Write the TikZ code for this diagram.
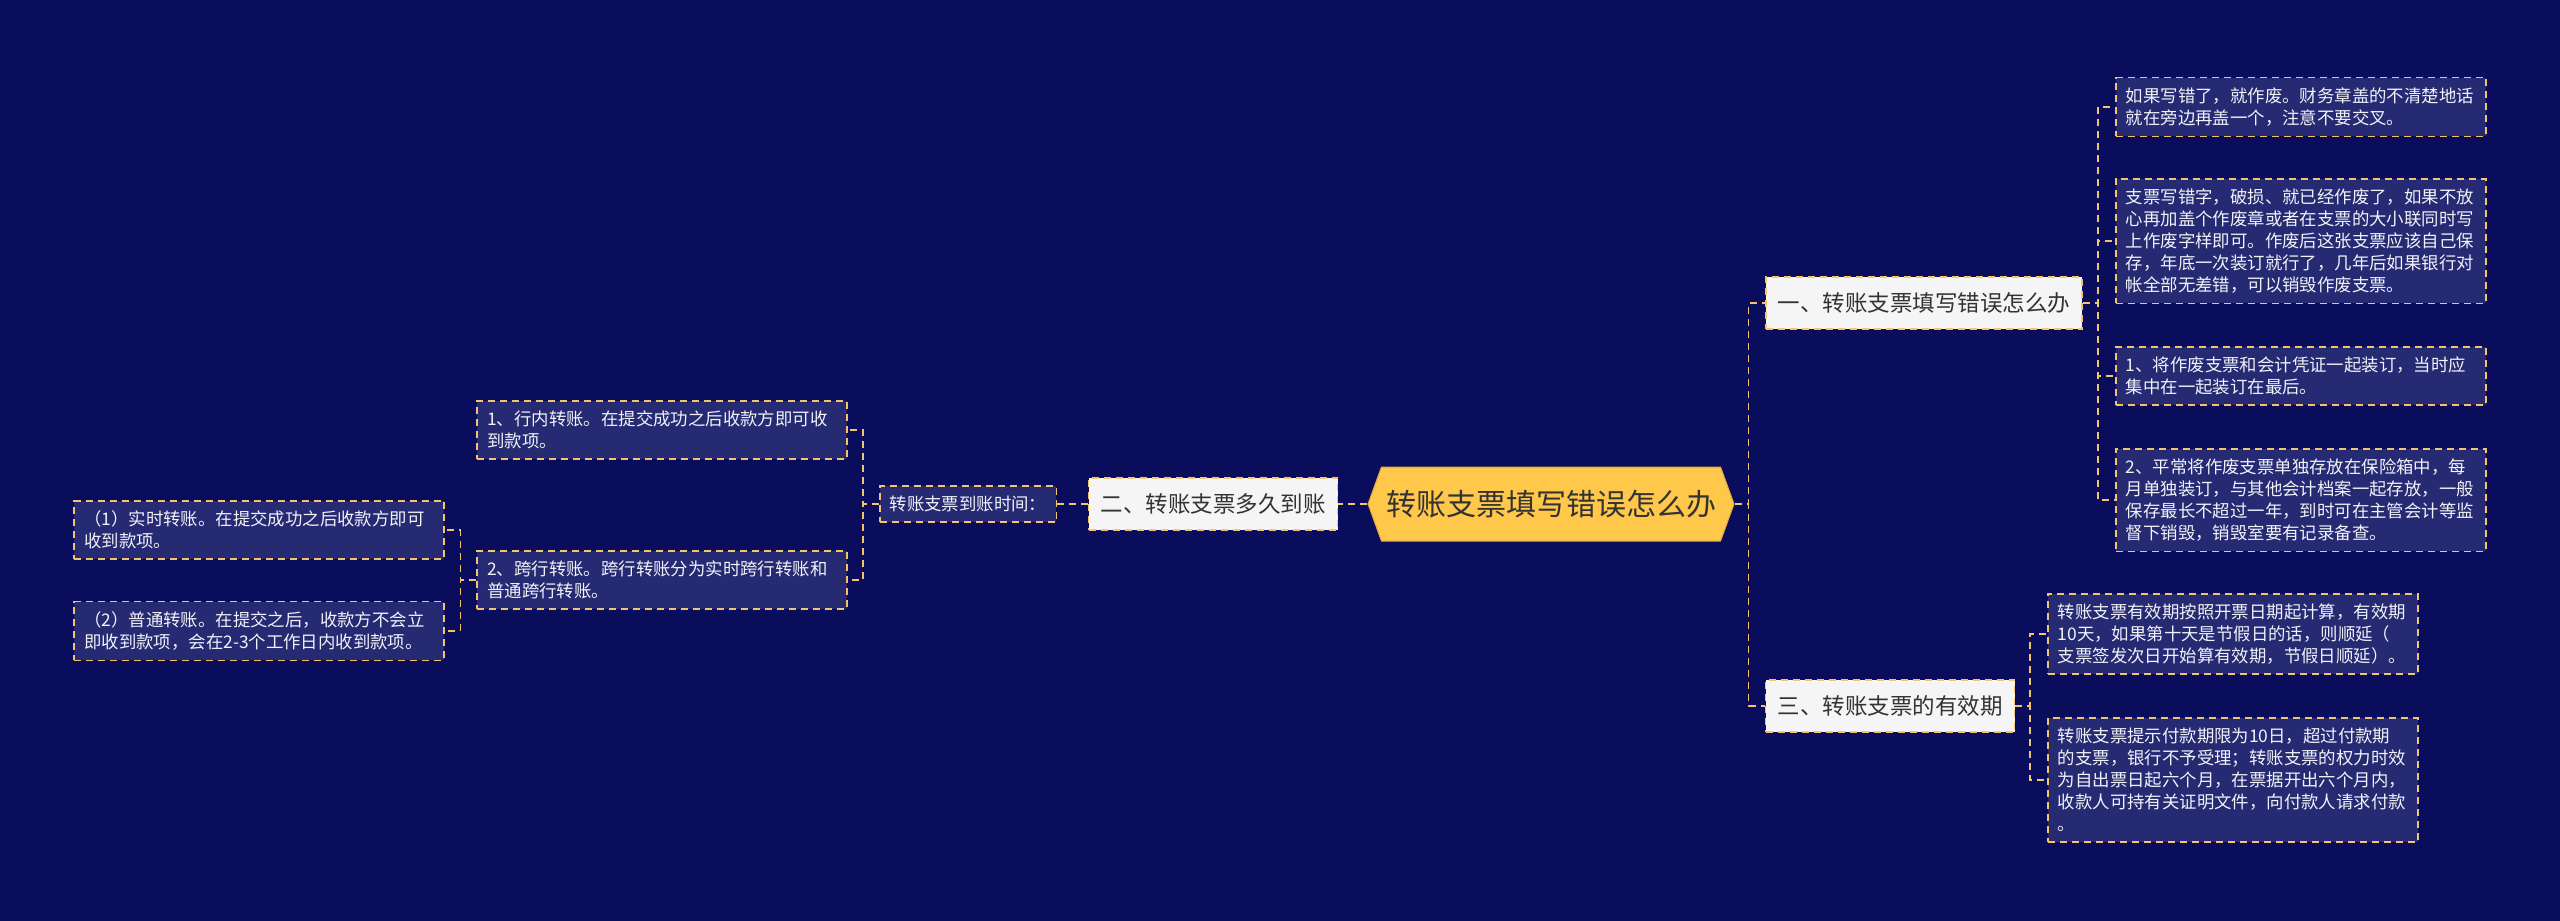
\documentclass[tikz,border=0pt]{standalone}
\usepackage{fontspec}
\setmainfont{Noto Sans CJK SC}
\usetikzlibrary{shapes.symbols}
\definecolor{bgnavy}{HTML}{0A0D5B}
\definecolor{leafblue}{HTML}{252A72}
\definecolor{lineyellow}{HTML}{F3C46A}
\definecolor{rootyellow}{HTML}{FFC84B}
\definecolor{boxgray}{HTML}{F5F5F5}
\definecolor{textdark}{HTML}{333333}
\definecolor{textlight}{HTML}{F2F2F8}
\tikzset{
  link/.style={draw=lineyellow, line width=1.8pt, dash pattern=on 7pt off 5pt},
  dashbox/.style={draw=lineyellow, line width=1.6pt, dash pattern=on 7pt off 5pt},
  smallbox/.style={dashbox, fill=leafblue, text=textlight, inner xsep=10pt,
     inner ysep=10pt, font=\fontsize{17.4}{22}\selectfont},
  leaf/.style={smallbox, align=left, text width=350pt},
  branch/.style={dashbox, fill=boxgray, text=textdark, inner xsep=12pt,
     minimum height=52pt, font=\fontsize{22.5}{27}\selectfont},
  rootbox/.style={signal, signal to=east and west, signal pointer angle=140,
     fill=rootyellow, draw=rootyellow!85!black, line width=1pt, text=textdark,
     minimum width=366pt, minimum height=74pt, font=\fontsize{30}{36}\selectfont}
}
\def\Leaf#1#2#3#4{%
  \node[leaf, anchor=#3] (#1) at #2 {#4};
}
\begin{document}
\begin{tikzpicture}[x=1pt, y=-1pt]
\useasboundingbox[fill=bgnavy] (0,0) rectangle (2560,921);
\node[rootbox] (root) at (1551,504) {转账支票填写错误怎么办};
\node[branch] (n1) at (1924,303) {一、转账支票填写错误怎么办};
\node[branch] (n2) at (1213,504) {二、转账支票多久到账};
\node[branch] (n3) at (1890,706) {三、转账支票的有效期};
\node[smallbox] (q) at (968,504) {转账支票到账时间：};
% right side
\Leaf{leafA}{(2115,107)}{west}{如果写错了，就作废。财务章盖的不清楚地话\\就在旁边再盖一个，注意不要交叉。}
\Leaf{leafB}{(2115,241)}{west}{支票写错字，破损、就已经作废了，如果不放\\心再加盖个作废章或者在支票的大小联同时写\\上作废字样即可。作废后这张支票应该自己保\\存，年底一次装订就行了，几年后如果银行对\\帐全部无差错，可以销毁作废支票。}
\Leaf{leafC}{(2115,376)}{west}{1、将作废支票和会计凭证一起装订，当时应\\集中在一起装订在最后。}
\Leaf{leafD}{(2115,500)}{west}{2、平常将作废支票单独存放在保险箱中，每\\月单独装订，与其他会计档案一起存放，一般\\保存最长不超过一年，到时可在主管会计等监\\督下销毁，销毁室要有记录备查。}
\Leaf{leafE}{(2047,634)}{west}{转账支票有效期按照开票日期起计算，有效期\\10天，如果第十天是节假日的话，则顺延（\\支票签发次日开始算有效期，节假日顺延）。}
\Leaf{leafF}{(2047,780)}{west}{转账支票提示付款期限为10日，超过付款期\\的支票，银行不予受理；转账支票的权力时效\\为自出票日起六个月，在票据开出六个月内，\\收款人可持有关证明文件，向付款人请求付款\\。}
% left side
\Leaf{leaf1}{(848,430)}{east}{1、行内转账。在提交成功之后收款方即可收\\到款项。}
\Leaf{leaf2}{(848,580)}{east}{2、跨行转账。跨行转账分为实时跨行转账和\\普通跨行转账。}
\Leaf{sub1}{(445,530)}{east}{（1）实时转账。在提交成功之后收款方即可\\收到款项。}
\Leaf{sub2}{(445,631)}{east}{（2）普通转账。在提交之后，收款方不会立\\即收到款项，会在2-3个工作日内收到款项。}
\draw[link] (root.east) -- ++(14,0) |- (n1.west);
\draw[link] (root.east) -- ++(14,0) |- (n3.west);
\draw[link] (root.west) -- (n2.east);
\draw[link] (n2.west) -- (q.east);
\foreach \c in {leafA,leafB,leafC,leafD}
  \draw[link] (n1.east) -- ++(15,0) |- (\c.west);
\foreach \c in {leafE,leafF}
  \draw[link] (n3.east) -- ++(15,0) |- (\c.west);
\foreach \c in {leaf1,leaf2}
  \draw[link] (q.west) -- ++(-16,0) |- (\c.east);
\foreach \c in {sub1,sub2}
  \draw[link] (leaf2.west) -- ++(-16,0) |- (\c.east);
\end{tikzpicture}
\end{document}
